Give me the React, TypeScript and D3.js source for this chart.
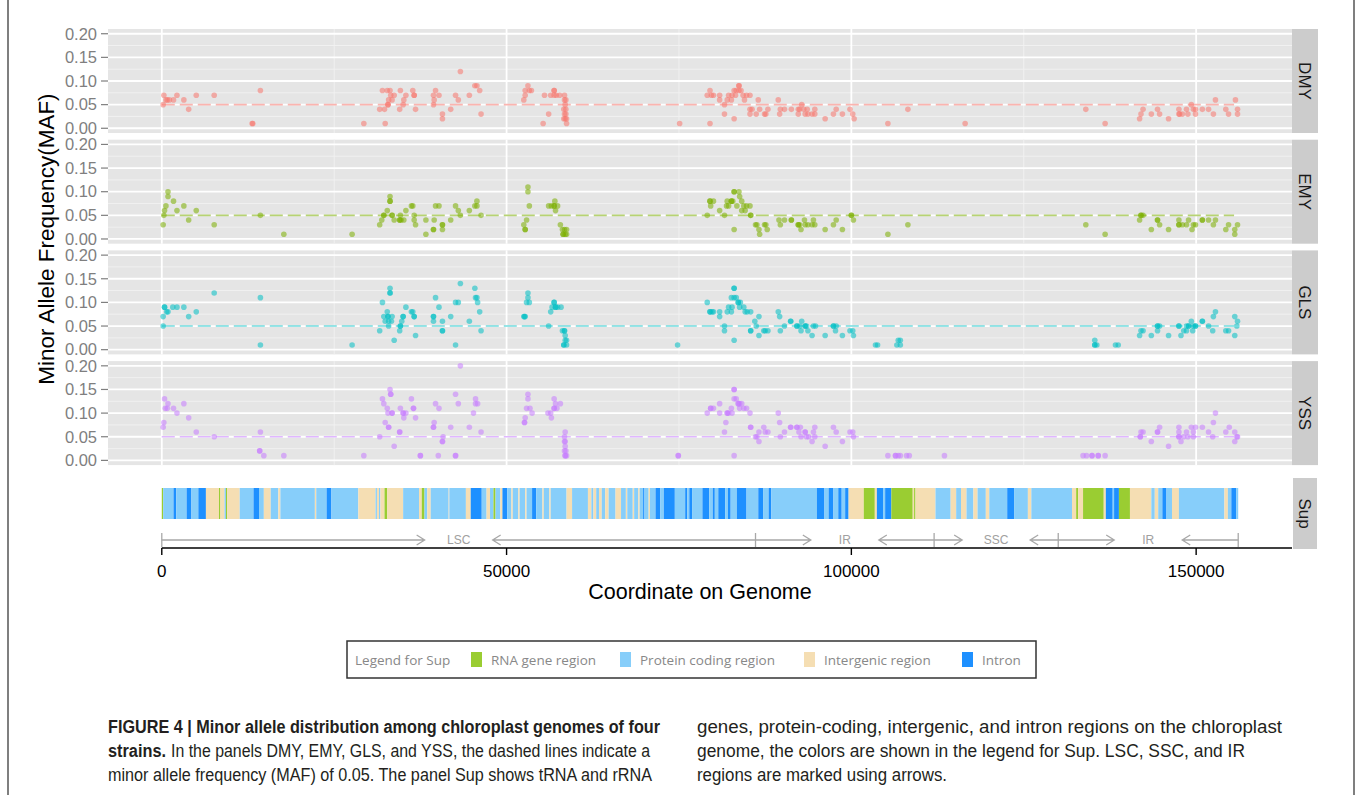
import React, { useEffect, useRef } from 'react';
import * as d3 from 'd3';

const W = 1357;
const H = 795;

const strains = ['DMY', 'EMY', 'GLS', 'YSS'];
const strainColors = ['#F8766D', '#7CAE00', '#00BFC4', '#C77CFF'];
const mafTicks = [0, 0.05, 0.1, 0.15, 0.2];
const mafMinor = [0.025, 0.075, 0.125, 0.175];
const posTicks = [0, 50, 100, 150]; // kb
const posTickLabels = ['0', '50000', '100000', '150000'];
const posMinor = [25, 75, 125];
const mafCutoff = 0.05;

// [position on genome (kb), MAF]
const DMY: [number, number][] = [
  [0.2, .05], [0.3, .07], [0.6, .06], [0.8, .06], [1.1, .06], [1.7, .06], [2.2, .07], [3.2, .06], [3.9, .04], [5.0, .07],
  [7.6, .07], [13.1, .01], [13.2, .01], [14.3, .08], [29.3, .01], [31.6, .04], [32.0, .08], [32.3, .04], [32.4, .01],
  [32.7, .08], [32.8, .05], [32.8, .05], [32.9, .06], [33.1, .08], [33.2, .07], [33.4, .06], [33.7, .07], [34.5, .04],
  [34.6, .08], [35.0, .05], [35.1, .06], [35.4, .07], [36.4, .08], [36.6, .07], [36.6, .07], [36.8, .04], [39.4, .05],
  [39.5, .06], [39.4, .07], [39.7, .08], [40.2, .07], [40.7, .03], [40.7, .02], [41.9, .04], [42.6, .07], [43.0, .06],
  [43.3, .12], [44.6, .07], [45.4, .09], [45.7, .09], [46.1, .08], [46.3, .03], [52.5, .06], [52.7, .07], [52.7, .08],
  [53.1, .09], [53.3, .08], [53.6, .08], [55.3, .01], [55.5, .07], [56.1, .03], [56.4, .07], [56.9, .08], [56.9, .08],
  [56.9, .07], [57.2, .07], [57.7, .07], [58.4, .07], [58.4, .06], [58.5, .05], [58.3, .04], [58.4, .03], [58.5, .02],
  [58.7, .01], [58.3, .02], [58.6, .06], [58.6, .04], [58.6, .03], [58.7, .02], [75.1, .01], [79.1, .07], [79.5, .08],
  [79.7, .07], [80.0, .07], [79.5, .01], [80.9, .07], [80.9, .06], [81.6, .05], [81.6, .03], [82.0, .06], [82.2, .07],
  [82.6, .06], [82.7, .07], [83.0, .08], [83.0, .02], [83.2, .07], [83.3, .08], [83.7, .09], [83.7, .09], [83.7, .08],
  [84.0, .08], [84.3, .07], [84.5, .06], [84.8, .07], [85.3, .07], [85.3, .04], [85.3, .03], [85.6, .04], [86.2, .03],
  [86.5, .06], [86.7, .04], [87.4, .03], [87.6, .03], [87.9, .04], [89.4, .06], [89.6, .03], [89.7, .04], [90.3, .04],
  [91.3, .04], [92.3, .04], [92.3, .03], [92.5, .04], [92.8, .05], [93.1, .04], [93.3, .03], [93.6, .04], [93.7, .03],
  [94.3, .03], [94.7, .04], [94.7, .03], [96.2, .02], [97.4, .03], [97.8, .04], [98.7, .03], [99.8, .04], [100.2, .03],
  [100.4, .02], [105.3, .01], [108.2, .04], [116.5, .01], [134.0, .04], [136.8, .01], [141.8, .02], [142.0, .03],
  [142.3, .04], [143.5, .03], [144.4, .04], [144.7, .03], [146.0, .02], [147.5, .04], [147.5, .03], [147.6, .03],
  [148.0, .03], [148.6, .04], [148.8, .03], [149.3, .05], [149.6, .04], [149.9, .04], [149.9, .03], [150.9, .04],
  [151.8, .04], [152.5, .03], [152.8, .06], [154.3, .04], [154.7, .03], [155.7, .06], [156.0, .04], [156.0, .03],
];

const EMY: [number, number][] = [
  [0.2, .03], [0.3, .05], [0.4, .06], [0.6, .07], [0.9, .10], [0.9, .09], [1.7, .08], [2.2, .06], [3.2, .07], [3.9, .04],
  [5.0, .06], [7.6, .03], [14.3, .05], [17.7, .01], [27.6, .01], [31.6, .03], [31.9, .04], [32.2, .05], [32.2, .05],
  [32.7, .06], [33.1, .09], [33.1, .08], [33.1, .08], [33.4, .05], [33.4, .05], [33.7, .04], [34.5, .04], [34.5, .04],
  [34.7, .04], [34.6, .05], [35.1, .04], [35.4, .06], [36.2, .07], [36.4, .07], [36.6, .05], [36.6, .04], [36.8, .03],
  [38.3, .04], [38.3, .01], [39.4, .02], [39.4, .02], [39.5, .04], [39.7, .07], [40.2, .07], [40.7, .03], [40.7, .03],
  [40.7, .02], [41.9, .04], [42.6, .07], [43.0, .06], [43.3, .05], [44.6, .06], [45.4, .07], [45.7, .08], [45.7, .07],
  [46.3, .05], [52.5, .03], [52.7, .02], [52.7, .02], [52.9, .04], [53.1, .10], [53.1, .11], [53.3, .07], [56.1, .07],
  [56.5, .07], [56.9, .07], [56.9, .07], [57.0, .08], [57.1, .06], [57.4, .07], [57.8, .03], [58.1, .02], [58.2, .01],
  [58.2, .01], [58.4, .02], [58.5, .01], [58.7, .01], [58.7, .02], [79.1, .05], [79.6, .07], [79.5, .08], [79.5, .08],
  [80.0, .08], [80.9, .06], [81.6, .05], [81.9, .07], [82.0, .08], [82.2, .07], [82.6, .08], [82.6, .08], [82.8, .08],
  [83.0, .02], [83.0, .10], [83.0, .10], [83.7, .10], [83.4, .07], [83.8, .09], [84.1, .08], [84.1, .06], [84.4, .07],
  [84.6, .06], [84.8, .07], [85.3, .07], [85.4, .05], [85.4, .05], [86.1, .03], [86.3, .03], [86.6, .02], [86.7, .01],
  [87.4, .03], [87.8, .02], [87.6, .03], [89.5, .04], [89.7, .03], [90.3, .04], [91.3, .04], [91.3, .04], [92.3, .03],
  [92.3, .03], [92.5, .03], [92.7, .02], [93.2, .04], [93.3, .03], [93.7, .03], [94.3, .03], [94.5, .04], [94.7, .03],
  [96.2, .02], [97.4, .03], [97.8, .04], [98.7, .02], [100.0, .05], [100.0, .05], [100.3, .04], [105.3, .01],
  [108.2, .03], [134.0, .03], [136.8, .01], [141.8, .04], [142.0, .05], [142.0, .05], [142.3, .05], [143.5, .02],
  [144.4, .04], [144.4, .04], [144.7, .03], [146.0, .02], [147.5, .04], [147.5, .03], [147.5, .03], [148.0, .03],
  [148.6, .03], [148.9, .04], [149.6, .03], [149.9, .03], [149.4, .02], [150.9, .04], [150.9, .04], [151.8, .04],
  [152.5, .03], [152.8, .04], [154.3, .02], [154.7, .03], [155.6, .01], [155.6, .02], [156.0, .03],
];

const GLS: [number, number][] = [
  [0.2, .05], [0.2, .07], [0.4, .09], [0.4, .09], [0.7, .08], [0.9, .08], [1.6, .09], [2.2, .09], [3.2, .09], [3.9, .07],
  [5.0, .08], [7.6, .12], [14.3, .11], [14.3, .01], [27.6, .01], [31.6, .04], [32.0, .10], [32.2, .07], [32.4, .06],
  [32.7, .08], [32.8, .07], [32.8, .07], [32.9, .05], [33.1, .13], [33.1, .12], [33.1, .12], [32.9, .06], [33.3, .06],
  [33.4, .07], [33.7, .02], [34.5, .04], [34.6, .05], [34.6, .05], [34.8, .06], [35.0, .07], [35.0, .07], [35.4, .09],
  [36.2, .08], [36.4, .08], [36.6, .07], [36.6, .07], [36.8, .03], [39.4, .07], [39.4, .07], [39.4, .06], [39.7, .11],
  [40.2, .09], [40.7, .06], [40.7, .04], [40.7, .04], [41.9, .07], [42.6, .10], [43.0, .10], [42.6, .01], [43.3, .14],
  [44.6, .06], [45.4, .13], [45.5, .11], [45.7, .11], [45.8, .10], [46.1, .08], [46.3, .04], [52.5, .07], [52.6, .07],
  [52.7, .07], [52.9, .10], [53.1, .12], [53.1, .11], [53.3, .10], [56.1, .05], [56.4, .08], [56.6, .09], [56.9, .10],
  [56.9, .10], [57.1, .09], [57.1, .09], [57.4, .09], [57.9, .09], [58.1, .04], [58.4, .04], [58.4, .04], [58.5, .03],
  [58.5, .02], [58.3, .01], [58.3, .01], [58.7, .01], [58.7, .02], [74.8, .01], [79.1, .10], [79.5, .08], [79.5, .08],
  [79.8, .08], [80.0, .08], [80.9, .08], [80.9, .07], [81.6, .05], [81.6, .04], [82.0, .08], [82.2, .09], [82.6, .08],
  [82.7, .09], [83.0, .13], [83.0, .13], [83.0, .11], [83.0, .02], [82.6, .11], [83.3, .11], [83.6, .10], [83.6, .10],
  [83.9, .10], [83.8, .09], [84.4, .09], [84.6, .08], [84.9, .08], [85.4, .08], [85.4, .04], [85.4, .04], [86.0, .06],
  [86.2, .05], [86.6, .07], [86.6, .03], [87.3, .04], [87.5, .04], [87.9, .04], [89.4, .08], [89.6, .07], [89.7, .04],
  [90.3, .05], [91.2, .06], [91.2, .06], [92.1, .05], [92.1, .05], [92.5, .05], [92.7, .04], [92.8, .06], [93.3, .05],
  [93.3, .05], [93.5, .05], [93.7, .04], [94.3, .03], [94.5, .05], [94.8, .05], [96.2, .03], [97.4, .05], [97.4, .05],
  [97.7, .04], [97.8, .05], [98.7, .03], [99.8, .04], [100.2, .04], [100.3, .03], [103.5, .01], [103.8, .01],
  [106.6, .01], [106.8, .02], [107.1, .02], [107.1, .01], [135.3, .02], [135.3, .01], [135.3, .01], [135.6, .01],
  [138.3, .01], [138.7, .01], [141.8, .03], [142.0, .04], [142.3, .04], [143.5, .03], [144.4, .05], [144.4, .05],
  [144.4, .04], [144.7, .05], [146.0, .03], [147.5, .05], [147.5, .05], [147.8, .03], [148.2, .04], [148.6, .05],
  [148.6, .04], [148.9, .05], [148.9, .05], [149.3, .06], [149.5, .04], [149.6, .05], [149.9, .05], [149.9, .05],
  [150.9, .06], [150.9, .06], [151.8, .05], [152.4, .04], [152.5, .07], [152.8, .08], [154.3, .04], [154.7, .04],
  [155.6, .03], [155.6, .07], [156.0, .06], [155.9, .05],
];

const YSS: [number, number][] = [
  [0.2, .07], [0.3, .08], [0.4, .13], [0.5, .11], [0.8, .11], [0.9, .12], [1.7, .11], [2.2, .10], [3.2, .12], [3.9, .09],
  [5.0, .06], [7.6, .05], [14.3, .06], [14.2, .02], [14.2, .02], [14.8, .01], [17.7, .01], [29.3, .01], [31.6, .05],
  [32.0, .13], [32.2, .12], [32.4, .08], [32.7, .11], [32.8, .10], [32.9, .07], [32.9, .07], [33.1, .15], [33.2, .14],
  [33.2, .14], [33.4, .10], [33.4, .10], [33.7, .03], [34.5, .06], [34.5, .06], [34.6, .11], [35.0, .10], [35.0, .10],
  [35.1, .09], [35.4, .10], [36.2, .13], [36.5, .11], [36.5, .11], [36.8, .09], [37.5, .01], [37.5, .01], [39.4, .07],
  [39.4, .07], [39.5, .08], [39.7, .12], [40.1, .01], [40.2, .11], [40.7, .04], [40.7, .04], [40.8, .05], [41.9, .07],
  [42.6, .14], [43.0, .12], [42.6, .01], [42.6, .01], [43.3, .20], [44.6, .07], [45.2, .10], [45.5, .13], [45.5, .12],
  [45.8, .12], [46.3, .06], [52.6, .08], [52.6, .08], [52.7, .09], [52.9, .11], [53.1, .14], [53.1, .13], [53.4, .11],
  [53.7, .10], [56.0, .10], [56.4, .10], [56.5, .09], [56.9, .13], [56.9, .11], [56.9, .11], [57.1, .12], [57.3, .11],
  [57.8, .12], [58.5, .06], [58.4, .05], [58.5, .04], [58.5, .03], [58.4, .02], [58.5, .01], [58.5, .01], [58.7, .01],
  [58.4, .04], [58.6, .02], [74.9, .01], [74.9, .01], [79.1, .10], [79.6, .11], [79.6, .11], [80.0, .11], [80.9, .12],
  [80.9, .10], [81.8, .08], [81.6, .06], [82.0, .10], [82.0, .10], [82.2, .10], [82.6, .11], [82.7, .10], [83.0, .15],
  [83.0, .15], [83.0, .13], [83.0, .01], [83.3, .13], [83.6, .12], [83.6, .12], [83.8, .11], [83.8, .12], [84.1, .12],
  [84.4, .11], [84.8, .11], [85.3, .10], [85.4, .07], [85.4, .07], [86.1, .05], [86.3, .05], [86.6, .06], [86.6, .04],
  [87.3, .07], [87.5, .06], [87.9, .06], [89.4, .10], [89.6, .08], [89.7, .05], [90.3, .06], [91.2, .07], [91.2, .07],
  [92.1, .07], [92.1, .07], [92.4, .06], [92.6, .07], [92.7, .05], [93.3, .06], [93.3, .06], [93.5, .05], [93.8, .05],
  [94.3, .04], [94.5, .06], [94.7, .07], [94.7, .05], [96.2, .03], [97.4, .07], [97.8, .06], [98.7, .04], [99.8, .06],
  [100.2, .06], [100.3, .05], [105.3, .01], [106.4, .01], [106.4, .01], [106.8, .01], [107.1, .01], [108.0, .01],
  [108.4, .01], [113.5, .01], [133.6, .01], [134.1, .01], [134.9, .01], [134.9, .01], [135.8, .01], [135.8, .01],
  [136.8, .01], [141.9, .05], [141.9, .05], [142.0, .06], [142.3, .06], [143.5, .04], [144.4, .06], [144.4, .06],
  [144.7, .07], [146.0, .03], [147.5, .07], [147.5, .06], [147.5, .05], [147.5, .05], [147.8, .04], [148.2, .05],
  [148.6, .06], [148.8, .05], [149.3, .07], [149.6, .06], [149.6, .05], [149.9, .07], [150.9, .07], [151.8, .06],
  [152.4, .05], [152.5, .08], [152.8, .10], [154.3, .06], [154.8, .07], [155.6, .06], [155.6, .04], [155.9, .05],
  [156.0, .05],
];

const strainData = [DMY, EMY, GLS, YSS];

// Sup panel: region types and genome segments [start kb, end kb, region index]
const regionNames = ['RNA gene region', 'Protein coding region', 'Intergenic region', 'Intron'];
const regionColors = ['#9ACD32', '#87CEFA', '#F5DEB3', '#1E90FF'];
const supRegions: [number, number, number][] = [
  [0, 0.2, 0], [0.2, 1.7, 1], [1.7, 2.1, 3], [2.1, 3.6, 1], [3.6, 4.3, 3], [4.3, 5.3, 1], [5.3, 6.4, 3], [6.4, 8.3, 2],
  [8.3, 8.5, 0], [8.5, 9.1, 2], [9.1, 9.3, 1], [9.3, 9.5, 0], [9.5, 11.3, 2], [11.3, 13.3, 1], [13.3, 14.1, 3],
  [14.1, 14.8, 1], [14.8, 15.8, 2], [15.8, 16.9, 1], [16.9, 17.2, 2], [17.2, 22.2, 1], [22.2, 22.4, 2], [22.4, 23.9, 1],
  [23.9, 24.6, 3], [24.6, 28.5, 1], [28.5, 31.0, 2], [31.0, 31.2, 1], [31.2, 31.5, 2], [31.5, 31.7, 1], [31.7, 32.3, 2],
  [32.3, 32.7, 0], [32.7, 35.0, 2], [35.0, 37.3, 1], [37.3, 37.7, 2], [37.7, 38.1, 0], [38.1, 38.5, 1], [38.5, 39.0, 2],
  [39.0, 41.6, 1], [41.6, 41.7, 2], [41.7, 44.1, 1], [44.1, 44.8, 2], [44.8, 46.4, 3], [46.4, 47.1, 1], [47.1, 47.6, 2],
  [47.6, 48.1, 1], [48.1, 48.4, 0], [48.4, 49.1, 1], [49.1, 49.4, 2], [49.4, 50.1, 3], [50.1, 50.7, 1], [50.7, 50.9, 2],
  [50.9, 51.7, 1], [51.7, 51.9, 2], [51.9, 52.7, 1], [52.7, 52.9, 2], [52.9, 53.7, 1], [53.7, 54.3, 3], [54.3, 55.2, 1],
  [55.2, 55.4, 2], [55.4, 56.2, 1], [56.2, 56.4, 2], [56.4, 58.7, 1], [58.7, 59.5, 2], [59.5, 61.8, 1], [61.8, 62.3, 2],
  [62.3, 62.6, 1], [62.6, 63.0, 2], [63.0, 63.4, 1], [63.4, 63.8, 2], [63.8, 64.3, 1], [64.3, 64.8, 2], [64.8, 65.8, 1],
  [65.8, 66.6, 2], [66.6, 67.3, 1], [67.3, 67.5, 2], [67.5, 68.3, 1], [68.3, 68.5, 2], [68.5, 69.1, 1], [69.1, 69.3, 2],
  [69.3, 69.8, 1], [69.8, 70.0, 3], [70.0, 70.6, 1], [70.6, 70.8, 2], [70.8, 71.6, 1], [71.6, 72.3, 3], [72.3, 72.8, 1],
  [72.8, 74.4, 3], [74.4, 75.9, 1], [75.9, 76.2, 3], [76.2, 76.5, 1], [76.5, 76.9, 3], [76.9, 78.4, 1], [78.4, 79.4, 3],
  [79.4, 79.9, 1], [79.9, 80.2, 3], [80.2, 80.7, 1], [80.7, 81.7, 3], [81.7, 82.1, 1], [82.1, 82.5, 3], [82.5, 83.4, 1],
  [83.4, 84.8, 3], [84.8, 86.5, 1], [86.5, 87.2, 3], [87.2, 88.0, 1], [88.0, 88.4, 3], [88.4, 95.0, 1], [95.0, 96.1, 3],
  [96.1, 96.7, 1], [96.7, 97.4, 3], [97.4, 98.1, 1], [98.1, 98.6, 3], [98.6, 99.1, 1], [99.1, 99.6, 3], [99.6, 101.8, 2],
  [101.8, 103.4, 0], [103.4, 103.7, 2], [103.7, 104.6, 3], [104.6, 104.9, 1], [104.9, 105.8, 3], [105.8, 108.9, 0],
  [108.9, 109.1, 2], [109.1, 109.3, 0], [109.3, 112.2, 2], [112.2, 114.4, 1], [114.4, 115.2, 2], [115.2, 115.9, 1],
  [115.9, 116.7, 2], [116.7, 117.7, 1], [117.7, 118.3, 2], [118.3, 119.5, 1], [119.5, 120.0, 2], [120.0, 122.6, 1],
  [122.6, 123.6, 3], [123.6, 125.6, 1], [125.6, 126.1, 2], [126.1, 132.0, 1], [132.0, 132.6, 2], [132.6, 132.9, 0],
  [132.9, 133.6, 2], [133.6, 136.6, 0], [136.6, 136.9, 2], [136.9, 137.9, 3], [137.9, 138.1, 1], [138.1, 138.8, 3],
  [138.8, 140.4, 0], [140.4, 143.5, 2], [143.5, 144.0, 1], [144.0, 144.5, 2], [144.5, 145.1, 1], [145.1, 145.7, 3],
  [145.7, 146.5, 1], [146.5, 147.5, 2], [147.5, 154.1, 1], [154.1, 154.6, 2], [154.6, 155.1, 1], [155.1, 155.8, 3],
  [155.8, 156.1, 1],
];

// genome parts marked with arrows
const partNames = ['LSC', 'IR', 'SSC', 'IR'];
const partBounds = [0, 86.1, 112.0, 130.0, 156.1];

// caption pieces: [text, bold?]
const captionLeft: [string, boolean][][] = [
  [['FIGURE 4 | Minor allele distribution among chloroplast genomes of four', true]],
  [['strains.', true], ['In the panels DMY, EMY, GLS, and YSS, the dashed lines indicate a', false]],
  [['minor allele frequency (MAF) of 0.05. The panel Sup shows tRNA and rRNA', false]],
];
const captionRight: [string, boolean][][] = [
  [['genes, protein-coding, intergenic, and intron regions on the chloroplast', false]],
  [['genome, the colors are shown in the legend for Sup. LSC, SSC, and IR', false]],
  [['regions are marked using arrows.', false]],
];

const FONT = '"Liberation Sans", Arial, Helvetica, sans-serif';

function draw(node: SVGSVGElement) {
  const svg = d3.select(node);
  svg.selectAll('*').remove();

  const left = 108;
  const right = 1292;
  const x = d3.scaleLinear().domain([-7.8, 163.9]).range([left, right]);

  // figure frame
  [8, 1354].forEach(fx => {
    svg.append('line')
      .attr('x1', fx).attr('x2', fx).attr('y1', 0).attr('y2', H)
      .attr('stroke', '#555').attr('stroke-width', 1.5);
  });

  // facet panels
  const panelTop = 29;
  const panelH = 104;
  const step = 110.7;

  strainData.forEach((pts, i) => {
    const top = panelTop + i * step;
    const y = d3.scaleLinear().domain([-0.01, 0.21]).range([top + panelH, top]);
    const g = svg.append('g');

    g.append('rect')
      .attr('x', left).attr('y', top).attr('width', right - left).attr('height', panelH)
      .attr('fill', '#E5E5E5');

    g.selectAll('.hmin').data(mafMinor).enter().append('line')
      .attr('x1', left).attr('x2', right).attr('y1', d => y(d)).attr('y2', d => y(d))
      .attr('stroke', '#F2F2F2').attr('stroke-width', 0.9);
    g.selectAll('.vmin').data(posMinor).enter().append('line')
      .attr('x1', d => x(d)).attr('x2', d => x(d)).attr('y1', top).attr('y2', top + panelH)
      .attr('stroke', '#F2F2F2').attr('stroke-width', 0.9);
    g.selectAll('.hmaj').data(mafTicks).enter().append('line')
      .attr('x1', left).attr('x2', right).attr('y1', d => y(d)).attr('y2', d => y(d))
      .attr('stroke', '#FFFFFF').attr('stroke-width', 1.8);
    g.selectAll('.vmaj').data(posTicks).enter().append('line')
      .attr('x1', d => x(d)).attr('x2', d => x(d)).attr('y1', top).attr('y2', top + panelH)
      .attr('stroke', '#FFFFFF').attr('stroke-width', 1.8);

    // MAF = 0.05 reference
    g.append('line')
      .attr('x1', x(0)).attr('x2', x(155.5))
      .attr('y1', y(mafCutoff)).attr('y2', y(mafCutoff))
      .attr('stroke', strainColors[i]).attr('stroke-opacity', 0.55)
      .attr('stroke-width', 1.6).attr('stroke-dasharray', '13,5');

    g.selectAll('circle').data(pts).enter().append('circle')
      .attr('cx', d => x(d[0])).attr('cy', d => y(d[1])).attr('r', 2.8)
      .attr('fill', strainColors[i]).attr('fill-opacity', 0.55);

    // y axis
    g.selectAll('.ytick').data(mafTicks).enter().append('line')
      .attr('x1', left - 7).attr('x2', left).attr('y1', d => y(d)).attr('y2', d => y(d))
      .attr('stroke', '#7F7F7F').attr('stroke-width', 1.2);
    g.selectAll('.ylab').data(mafTicks).enter().append('text')
      .attr('x', left - 11).attr('y', d => y(d)).attr('dy', '0.35em')
      .attr('text-anchor', 'end').attr('font-family', FONT).attr('font-size', 16.5)
      .attr('fill', '#7F7F7F').text(d => d3.format('.2f')(d));

    // strip
    g.append('rect')
      .attr('x', right).attr('y', top).attr('width', 26).attr('height', panelH)
      .attr('fill', '#CCCCCC');
    g.append('text')
      .attr('transform', `translate(${right + 13},${top + panelH / 2}) rotate(90)`)
      .attr('text-anchor', 'middle').attr('dy', '0.35em')
      .attr('font-family', FONT).attr('font-size', 17).attr('fill', '#1A1A1A')
      .text(strains[i]);
  });

  svg.append('text')
    .attr('transform', `translate(46,${panelTop + (3 * step + panelH) / 2 - 8}) rotate(-90)`)
    .attr('text-anchor', 'middle').attr('dy', '0.35em')
    .attr('font-family', FONT).attr('font-size', 22.5).attr('fill', '#000')
    .text('Minor Allele Frequency(MAF)');

  // Sup panel
  const supTop = 478;
  const supBottom = 549;
  const barTop = 488;
  const barBottom = 519;
  const sup = svg.append('g');
  sup.selectAll('rect.seg').data(supRegions).enter().append('rect')
    .attr('class', 'seg')
    .attr('x', d => x(d[0])).attr('width', d => Math.max(0.6, x(d[1]) - x(d[0])))
    .attr('y', barTop).attr('height', barBottom - barTop)
    .attr('fill', d => regionColors[d[2]]);

  sup.append('rect')
    .attr('x', right + 1).attr('y', supTop).attr('width', 24).attr('height', supBottom - supTop)
    .attr('fill', '#CCCCCC');
  sup.append('text')
    .attr('transform', `translate(${right + 13},${(supTop + supBottom) / 2}) rotate(90)`)
    .attr('text-anchor', 'middle').attr('dy', '0.35em')
    .attr('font-family', FONT).attr('font-size', 17).attr('fill', '#1A1A1A')
    .text('Sup');

  // arrows for LSC / IR / SSC / IR
  const ay = 540;
  const arrowColor = '#A8A8A8';
  const gap = 34;
  partBounds.forEach(b => {
    sup.append('line')
      .attr('x1', x(b)).attr('x2', x(b)).attr('y1', ay - 7).attr('y2', ay + 7)
      .attr('stroke', arrowColor).attr('stroke-width', 1.3);
  });
  partNames.forEach((name, i) => {
    const a = x(partBounds[i]);
    const b = x(partBounds[i + 1]);
    const mid = (a + b) / 2;
    const l1 = mid - gap;
    const l2 = mid + gap;
    sup.append('path')
      .attr('d', `M${a},${ay}L${l1},${ay}M${l1 - 8},${ay - 5}L${l1},${ay}L${l1 - 8},${ay + 5}`)
      .attr('fill', 'none').attr('stroke', arrowColor).attr('stroke-width', 1.3);
    sup.append('path')
      .attr('d', `M${b},${ay}L${l2},${ay}M${l2 + 8},${ay - 5}L${l2},${ay}L${l2 + 8},${ay + 5}`)
      .attr('fill', 'none').attr('stroke', arrowColor).attr('stroke-width', 1.3);
    sup.append('text')
      .attr('x', mid).attr('y', ay).attr('dy', '0.35em').attr('text-anchor', 'middle')
      .attr('font-family', FONT).attr('font-size', 12).attr('fill', '#A0A0A0')
      .text(name);
  });

  // x axis
  const axY = 548;
  sup.append('line')
    .attr('x1', x(0)).attr('x2', right).attr('y1', axY).attr('y2', axY)
    .attr('stroke', '#000').attr('stroke-width', 1.6);
  sup.selectAll('.xtick').data(posTicks).enter().append('line')
    .attr('x1', d => x(d)).attr('x2', d => x(d)).attr('y1', axY).attr('y2', axY + 7)
    .attr('stroke', '#000').attr('stroke-width', 1.4);
  sup.selectAll('.xlab').data(posTicks).enter().append('text')
    .attr('x', d => x(d)).attr('y', 577).attr('text-anchor', 'middle')
    .attr('font-family', FONT).attr('font-size', 17).attr('fill', '#000')
    .text((d, i) => posTickLabels[i]);
  svg.append('text')
    .attr('x', (left + right) / 2).attr('y', 599).attr('text-anchor', 'middle')
    .attr('font-family', FONT).attr('font-size', 21.5).attr('fill', '#000')
    .text('Coordinate on Genome');

  // legend for Sup
  const lg = svg.append('g');
  lg.append('rect')
    .attr('x', 347).attr('y', 641).attr('width', 689).attr('height', 37)
    .attr('fill', '#fff').attr('stroke', '#333').attr('stroke-width', 1.5);
  const legFont = '"Open Sans", "Noto Sans", sans-serif';
  lg.append('text')
    .attr('x', 355).attr('y', 660).attr('dy', '0.35em')
    .attr('font-family', legFont).attr('font-size', 13.5).attr('fill', '#888')
    .text('Legend for Sup');
  const swX = [471, 620, 804, 962];
  regionNames.forEach((name, i) => {
    lg.append('rect')
      .attr('x', swX[i]).attr('y', 652).attr('width', 11).attr('height', 15)
      .attr('fill', regionColors[i]);
    lg.append('text')
      .attr('x', swX[i] + 20).attr('y', 660).attr('dy', '0.35em')
      .attr('font-family', legFont).attr('font-size', 13.5).attr('fill', '#888')
      .text(name);
  });

  // caption: each piece squeezed to its measured width (condensed face look)
  const capLayout = [
    [[108, 552]], [[108, 58], [171, 479]], [[108, 544]],
    [[697, 585]], [[697, 548]], [[697, 250]],
  ];
  [...captionLeft, ...captionRight].forEach((line, li) => {
    const row = li % 3;
    line.forEach(([txt, bold], pi) => {
      const [px, pw] = capLayout[li][pi];
      svg.append('text')
        .attr('x', px).attr('y', 733 + row * 24)
        .attr('font-family', FONT).attr('font-size', 17.5).attr('fill', '#231F20')
        .attr('font-weight', bold ? 'bold' : 'normal')
        .attr('textLength', pw).attr('lengthAdjust', 'spacingAndGlyphs')
        .text(txt);
    });
  });
}

export default function App() {
  const ref = useRef<SVGSVGElement>(null);

  useEffect(() => {
    if (ref.current) draw(ref.current);
  }, []);

  return (
    <svg
      ref={ref}
      width={W}
      height={H}
      style={{ position: 'absolute', left: 0, top: 0, background: '#fff', display: 'block' }}
    />
  );
}
